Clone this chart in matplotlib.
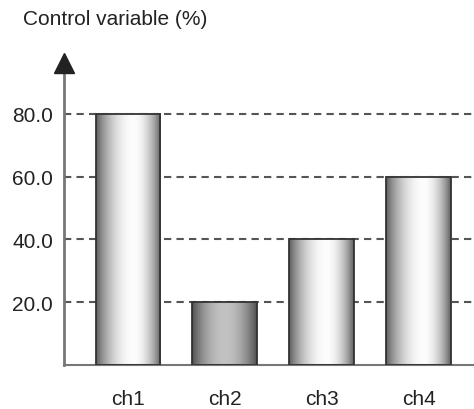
import numpy as np
import matplotlib
matplotlib.use("Agg")
import matplotlib.pyplot as plt

# data
channels = ["ch1", "ch2", "ch3", "ch4"]
values = [80.0, 20.0, 40.0, 60.0]
ytick_vals = [20.0, 40.0, 60.0, 80.0]
y_label = "Control variable (%)"

plt.rcParams['font.family'] = ['Liberation Sans', 'DejaVu Sans']

fig = plt.figure(figsize=(4.74, 4.10), dpi=100)
ax = fig.add_axes([64 / 474, 44 / 410, 1 - 64 / 474, (366 - 55) / 410])

x = np.arange(len(channels))
w = 0.67

# horizontal shading for the cylinders: dark edges, light middle
def shade(lo, hi, peak=0.55, n=200):
    t = np.linspace(0, 1, n)
    left = lo + (hi - lo) * np.sin(np.clip(t / peak, 0, 1) * np.pi / 2) ** 0.8
    right = lo + (hi - lo) * np.sin(np.clip((1 - t) / (1 - peak), 0, 1) * np.pi / 2) ** 0.8
    return np.where(t < peak, left, right)

for i, v in enumerate(values):
    if channels[i] == "ch2":
        g = shade(0.30, 0.76, peak=0.5)
    else:
        g = shade(0.35, 0.99, peak=0.58)
    ax.imshow(g[np.newaxis, :], cmap="gray", vmin=0, vmax=1, aspect="auto",
              extent=(x[i] - w / 2, x[i] + w / 2, 0, v), zorder=2,
              interpolation="bilinear")

ax.bar(x, values, width=w, fill=False, edgecolor="#333333", linewidth=1.3, zorder=3)
ax.set_xlim(-0.66, 3.57)
ax.set_ylim(0, 99)

# dashed reference lines
for yv in ytick_vals:
    ax.axhline(yv, color="#555555", lw=1.5, dashes=(3.5, 2.5), zorder=1)

ax.set_yticks(ytick_vals)
ax.set_yticklabels(["%.1f" % t for t in ytick_vals], fontsize=15, color="#222222")
ax.set_xticks(x)
ax.set_xticklabels(channels, fontsize=15, color="#222222")
ax.tick_params(axis="y", length=0, pad=8)
ax.tick_params(axis="x", length=0, pad=17)

for s in ["top", "right"]:
    ax.spines[s].set_visible(False)
ax.spines["left"].set_color("#777777")
ax.spines["left"].set_linewidth(2)
ax.spines["bottom"].set_color("#777777")
ax.spines["bottom"].set_linewidth(1.5)
ax.spines["left"].set_bounds(0, 95)

# arrow head on the y axis
ax.plot([-0.66], [96], marker="^", markersize=14, color="#222222",
        clip_on=False, zorder=5)

fig.text(23 / 474, 1 - 10 / 410, y_label, fontsize=15, va="top", ha="left",
         color="#222222")

fig.savefig("out.png", dpi=100)
